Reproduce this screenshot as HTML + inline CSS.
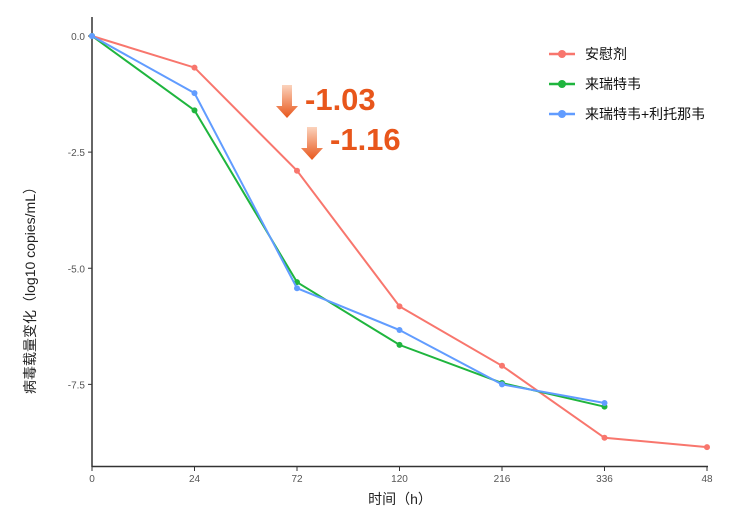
<!DOCTYPE html>
<html><head><meta charset="utf-8"><style>
body{margin:0;background:#fff;}
svg text{font-family:"Liberation Sans","Noto Sans CJK SC",sans-serif;}
</style></head><body>
<svg id="chart" width="731" height="514" xmlns="http://www.w3.org/2000/svg">
<defs><linearGradient id="ag" x1="0" y1="0" x2="0" y2="1"><stop offset="0" stop-color="#fbd3bd"/><stop offset="1" stop-color="#e8561b"/></linearGradient></defs>
<g id="axes"></g><g id="series"></g>
<g>
<path d="M282 85 h10 v21 h6 l-11 12 l-11 -12 h6 z" fill="url(#ag)"/>
<text x="305" y="110" font-size="31" font-weight="bold" fill="#e8561b">-1.03</text></g>
<g>
<path d="M307 127 h10 v21 h6 l-11 12 l-11 -12 h6 z" fill="url(#ag)"/>
<text x="330" y="150" font-size="31" font-weight="bold" fill="#e8561b">-1.16</text></g>
<g id="legend"></g>
<text x="48" y="300" font-size="14" fill="#222" transform="rotate(-90 35 300)" text-anchor="middle">病毒载量变化（log10 copies/mL）</text>
<text x="400" y="504" font-size="14" fill="#222" text-anchor="middle">时间（h）</text>
</svg>
<script>
const categories=["0","24","72","120","216","336","48"];
const yTicks=[0,-2.5,-5,-7.5];
const yTickLabels=["0.0","-2.5","-5.0","-7.5"];
const seriesNames=["安慰剂","来瑞特韦","来瑞特韦+利托那韦"];
const colors=["#f8766d","#1fb53e","#619cff"];
const placebo=[0,-0.68,-2.9,-5.82,-7.1,-8.65,-8.85];
const lrt=[0,-1.6,-5.3,-6.65,-7.47,-7.98];
const lrtRtv=[0,-1.23,-5.43,-6.33,-7.5,-7.9];
const allSeries=[placebo,lrt,lrtRtv];
const NS="http://www.w3.org/2000/svg";
const x=i=>92+i*(707-92)/(categories.length-1);
const y=v=>36+(-v)*46.45;
function mk(t,a,p){const e=document.createElementNS(NS,t);for(const k in a)e.setAttribute(k,a[k]);(p||document.getElementById('chart')).appendChild(e);return e;}
const ax=document.getElementById('axes');
let l=mk('line',{x1:92,y1:17,x2:92,y2:467,stroke:'#333','stroke-width':1.5},ax);


l=mk('line',{x1:92,y1:466.5,x2:708,y2:466.5,stroke:'#333','stroke-width':1.5},ax);


yTicks.forEach((v,i)=>{mk('line',{x1:88,x2:92,y1:y(v),y2:y(v),stroke:'#333'},ax);
const t=mk('text',{x:85,y:y(v)+4,'font-size':10,fill:'#555','text-anchor':'end'},ax);t.textContent=yTickLabels[i];

});
categories.forEach((c,i)=>{mk('line',{x1:x(i),x2:x(i),y1:467,y2:471,stroke:'#333'},ax);
const t=mk('text',{x:x(i),y:482,'font-size':10,fill:'#555','text-anchor':'middle'},ax);t.textContent=c;

});
const sg=document.getElementById('series');
allSeries.forEach((s,k)=>{const g=mk('g',{},sg);


mk('polyline',{points:s.map((v,i)=>x(i)+','+y(v)).join(' '),fill:'none',stroke:colors[k],'stroke-width':2},g);
s.forEach((v,i)=>{const c=mk('circle',{cx:x(i),cy:y(v),r:3,fill:colors[k]},g);

});});
const lg=document.getElementById('legend');
seriesNames.forEach((n,k)=>{const yy=54+k*30;const g=mk('g',{},lg);


mk('line',{x1:549,x2:575,y1:yy,y2:yy,stroke:colors[k],'stroke-width':2.5},g);
mk('circle',{cx:562,cy:yy,r:4,fill:colors[k]},g);
const t=mk('text',{x:585,y:yy+5,'font-size':14,fill:'#111'},g);t.textContent=n;});
</script>
</body></html>
